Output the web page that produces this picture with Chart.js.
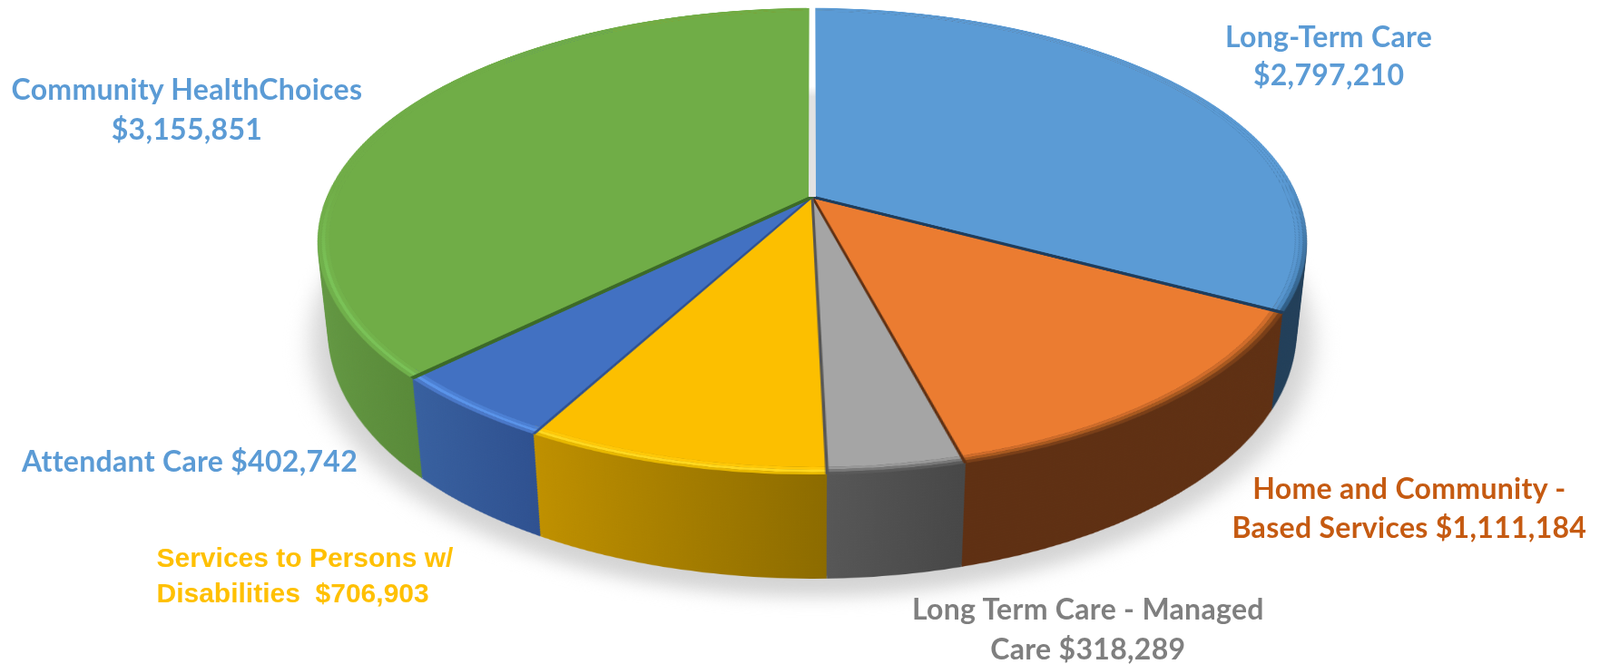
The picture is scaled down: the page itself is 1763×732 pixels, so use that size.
<!DOCTYPE html>
<html>
<head>
<meta charset="utf-8">
<script src="https://cdn.jsdelivr.net/npm/chart.js@4/dist/chart.umd.min.js"></script>
<style>
	html, body { margin: 0; background: #fff; width: 1763px; height: 732px; overflow: hidden; }
	#pie { position: absolute; left: 0; top: 0; width: 1763px; height: 732px; }
	#pie canvas { position: absolute; left: 360px; top: -318px; }
	.label { position: absolute; text-align: center; white-space: pre; font-family: Lato, sans-serif; font-weight: 700; font-size: 32px; letter-spacing: 0.3px; }
</style>
</head>
<body>
<div id="pie"></div>
<script>
const categories = ['Long-Term Care', 'Home and Community - Based Services', 'Long Term Care - Managed Care', 'Services to Persons w/ Disabilities', 'Attendant Care', 'Community HealthChoices'];
const values = [2797210, 1111184, 318289, 706903, 402742, 3155851];
const faceColors = ['#5b9bd5', '#eb7c31', '#a5a5a5', '#fcbf00', '#4271c2', '#70ad47'];
const wallLeft = ['#223f59', '#5f3013', '#575757', '#bf9000', '#38609f', '#659a44'];
const wallRight = ['#223f59', '#5f3013', '#474747', '#8c6b00', '#2f5190', '#598a39'];
const rimOuter = ['#2f5d85', '#7a3f18', '#5a5a5a', '#e8b800', '#4a78c8', '#70b04b'];
const rimMiddle = ['#4a86bc', '#a8591f', '#787878', '#ffd820', '#5a94ea', '#7ac257'];
const rimInner = ['#5694cd', '#d06c2a', '#989898', '#ffc808', '#4c80d4', '#73b34b'];
const lineColors = ['#1f3d5c', '#5f3013', '#555555', '#2f5190', '#3c6a28', '#ffffff'];
const labelTexts = [
	'Long-Term Care\n$2,797,210',
	'Home and Community -\nBased Services $1,111,184',
	'Long Term Care - Managed\nCare $318,289',
	'Services to Persons w/\nDisabilities  $706,903',
	'Attendant Care $402,742',
	'Community HealthChoices\n$3,155,851'
];
const labelColors = ['#5b9bd5', '#c55a11', '#7f7f7f', '#ffc000', '#5b9bd5', '#5b9bd5'];
const labelLineHeights = [42, 43, 44, 39, 44, 44];

const size = 1070;
const tilt = 'perspective(2486px) rotateX(62.4deg)';
const wallDepth = 115;
const wallStep = 3;
const turn = -0.6; // degrees, the lower slices sit a little right in the picture
const total = values.reduce((a, b) => a + b, 0);

// where each slice starts, as a fraction of the circle
const starts = [];
values.reduce((sum, v, i) => { starts[i] = sum / total; return sum + v; }, 0);

function addCanvas(transform) {
	const canvas = document.createElement('canvas');
	canvas.width = size;
	canvas.height = size;
	canvas.style.transform = transform;
	document.getElementById('pie').appendChild(canvas);
	return canvas;
}

const baseOptions = {
	responsive: false,
	animation: false,
	events: [],
	rotation: turn,
	plugins: { legend: { display: false }, tooltip: { enabled: false } }
};

// one gradient over the canvas width, the front of the wall is seen left to right
function wallPaint(ctx) {
	const grad = ctx.createLinearGradient(0, 0, size, 0);
	let from = 0;
	for (let i = values.length - 1; i >= 0; i--) {
		const to = i === 0 ? 1 : (1 + Math.sin(starts[i] * 2 * Math.PI + turn * Math.PI / 180)) / 2;
		grad.addColorStop(from, wallLeft[i]);
		grad.addColorStop(to, wallRight[i]);
		from = to;
	}
	return grad;
}

// the bevel on the edge of the top face, it only shows on the near side
function rimPaint(ctx, colors) {
	const grad = ctx.createConicGradient(-Math.PI / 2 + turn * Math.PI / 180, size / 2, size / 2);
	colors.forEach((c, i) => {
		const end = i + 1 < starts.length ? starts[i + 1] : 1;
		let a = c, b = c;
		if (i === 0) a = faceColors[0];
		grad.addColorStop(starts[i], a);
		if (i === 0) grad.addColorStop(0.23, faceColors[0]);
		if (i === 5) {
			grad.addColorStop(0.7, c);
			grad.addColorStop(0.76, faceColors[5]);
			b = faceColors[5];
		}
		grad.addColorStop(end - 0.0001, b);
	});
	return grad;
}

const faceLines = {
	id: 'faceLines',
	afterDatasetsDraw(chart) {
		const ctx = chart.ctx;
		const arcs = chart.getDatasetMeta(3).data;
		const radius = chart.getDatasetMeta(0).data[0].outerRadius;
		const cx = arcs[0].x;
		const cy = arcs[0].y;
		ctx.save();
		arcs.forEach((arc, i) => {
			ctx.beginPath();
			ctx.moveTo(cx, cy);
			ctx.lineTo(cx + Math.cos(arc.endAngle) * radius, cy + Math.sin(arc.endAngle) * radius);
			ctx.strokeStyle = lineColors[i];
			ctx.lineWidth = i === 0 || i === 4 ? 6 : 3;
			ctx.stroke();
		});
		// the turn leaves a blue sliver left of the gap, keep that side green
		ctx.fillStyle = faceColors[5];
		ctx.fillRect(cx - 12, cy - radius + 1, 8, radius - 3);
		// gap between the first and last slice
		ctx.fillStyle = '#ffffff';
		ctx.fillRect(cx - 4, cy - radius - 2, 8, radius + 2);
		const shade = ctx.createLinearGradient(0, cy - 290, 0, cy - 260);
		shade.addColorStop(0, '#ffffff');
		shade.addColorStop(1, '#e2e2e2');
		ctx.fillStyle = shade;
		ctx.fillRect(cx - 4, cy - 290, 8, 290);
		ctx.restore();
	}
};

// soft shadow on the floor
const shadowCanvas = addCanvas(tilt + ' translateZ(-' + (wallDepth + 6) + 'px) scale(1.035)');
shadowCanvas.style.filter = 'blur(12px)';
new Chart(shadowCanvas, {
	type: 'pie',
	data: { labels: categories, datasets: [{ data: values, backgroundColor: '#d4d4d4', borderWidth: 0 }] },
	options: baseOptions
});

// side wall: the same pie stacked downwards
for (let depth = wallDepth; depth > 0; depth -= wallStep) {
	const canvas = addCanvas(tilt + ' translateZ(-' + depth + 'px)');
	new Chart(canvas, {
		type: 'pie',
		data: { labels: categories, datasets: [{ data: values, backgroundColor: wallPaint(canvas.getContext('2d')), borderWidth: 0 }] },
		options: baseOptions
	});
}

const faceCanvas = addCanvas(tilt);
const faceCtx = faceCanvas.getContext('2d');
new Chart(faceCanvas, {
	type: 'pie',
	data: {
		labels: categories,
		datasets: [
			{ data: values, backgroundColor: rimPaint(faceCtx, rimOuter), borderWidth: 0, weight: 1 },
			{ data: values, backgroundColor: rimPaint(faceCtx, rimMiddle), borderWidth: 0, weight: 1 },
			{ data: values, backgroundColor: rimPaint(faceCtx, rimInner), borderWidth: 0, weight: 1 },
			{ data: values, backgroundColor: faceColors, borderWidth: 0, weight: 130 }
		]
	},
	options: baseOptions,
	plugins: [faceLines]
});

// data labels, centre x and top y of each block
const labelSpots = [[1464, 19], [1553, 516], [1199, 649], [336, 595], [209, 486], [206, 76]];
labelTexts.forEach((text, i) => {
	const div = document.createElement('div');
	div.className = 'label';
	div.textContent = text;
	div.style.color = labelColors[i];
	div.style.lineHeight = labelLineHeights[i] + 'px';
	if (i === 3) {
		div.style.fontFamily = '"Liberation Sans", sans-serif';
		div.style.fontSize = '30px';
		div.style.letterSpacing = '0';
		div.style.textAlign = 'left';
	}
	document.body.appendChild(div);
	div.style.left = (labelSpots[i][0] - div.offsetWidth / 2) + 'px';
	div.style.top = labelSpots[i][1] + 'px';
});
</script>
</body>
</html>
